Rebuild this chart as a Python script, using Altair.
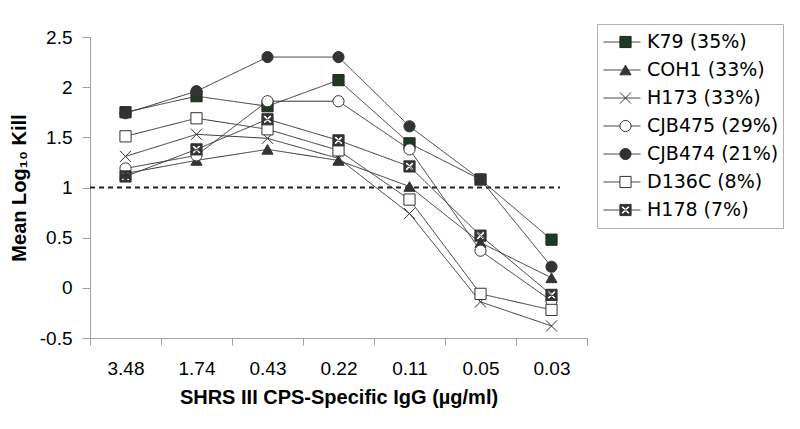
import altair as alt
import pandas as pd

conc = ["3.48", "1.74", "0.43", "0.22", "0.11", "0.05", "0.03"]
series = ["K79 (35%)", "COH1 (33%)", "H173 (33%)", "CJB475 (29%)",
          "CJB474 (21%)", "D136C (8%)", "H178 (7%)"]
k79 = [1.75, 1.91, 1.81, 2.07, 1.44, 1.08, 0.48]
coh1 = [1.14, 1.27, 1.38, 1.27, 1.01, 0.45, 0.10]
h173 = [1.31, 1.53, 1.49, 1.29, 0.74, -0.14, -0.38]
cjb475 = [1.19, 1.32, 1.86, 1.86, 1.38, 0.37, -0.13]
cjb474 = [1.74, 1.96, 2.30, 2.30, 1.61, 1.08, 0.21]
d136c = [1.51, 1.69, 1.58, 1.37, 0.88, -0.06, -0.22]
h178 = [1.11, 1.38, 1.68, 1.47, 1.21, 0.52, -0.07]
reference_level = 1

values = [k79, coh1, h173, cjb475, cjb474, d136c, h178]
series_b = [s + " " for s in series]  # marker legend domain (labels hidden)
rows = []
for s, sb, vals in zip(series, series_b, values):
    for c, v in zip(conc, vals):
        rows.append({"conc": c, "value": v, "series": s, "series_b": sb})
df = pd.DataFrame(rows)

DARK = "#333333"
X_PATH = "M-1,-1L1,1M-1,1L1,-1"
a, t = 0.78, 0.3
HOLE_X = (f"M{-t},0L{-a},{a - t}L{-a + t},{a}L0,{t}L{a - t},{a}L{a},{a - t}"
          f"L{t},0L{a},{-a + t}L{a - t},{-a}L0,{-t}L{-a + t},{-a}L{-a},{-a + t}Z")
H178_PATH = "M-1,-1H1V1H-1Z" + HOLE_X

shapes = ["square", "triangle-up", X_PATH, "circle", "circle", "square", H178_PATH]
fills = ["#1f3a22", DARK, DARK, "white", DARK, "white", DARK]
strokes = ["#222222", DARK, DARK, DARK, DARK, DARK, DARK]

W, H = 497, 301
LX, LY = 507, -13

x_enc = alt.X("conc:N", sort=conc, scale=alt.Scale(paddingInner=0, paddingOuter=0),
              axis=alt.Axis(title="SHRS III CPS-Specific IgG (µg/ml)", labelAngle=0,
                            tickBand="extent", labelPadding=14, tickSize=7,
                            titlePadding=9))
y_enc = alt.Y("value:Q", scale=alt.Scale(domain=[-0.5, 2.5], nice=False, zero=False),
              axis=alt.Axis(title="Mean Log₁₀ Kill", values=[-0.5, 0, 0.5, 1, 1.5, 2, 2.5],
                            labelExpr="datum.value", tickSize=8, labelPadding=10,
                            titlePadding=10))

rule = alt.Chart(pd.DataFrame({"y": [reference_level]})).mark_rule(
    color="#222222", strokeWidth=1.8, strokeDash=[5, 4]
).encode(y=alt.Y("y:Q", scale=alt.Scale(domain=[-0.5, 2.5], nice=False)),
         x=alt.value(0), x2=alt.value(470))

lines = alt.Chart(df).mark_line(color=DARK, strokeWidth=1).encode(
    x=x_enc, y=y_enc,
    strokeDash=alt.StrokeDash("series:N", sort=series,
                              scale=alt.Scale(domain=series, range=[[1, 0]] * 7),
                              legend=alt.Legend(title=None, orient="none", legendX=LX,
                                                legendY=LY, symbolType="stroke",
                                                symbolSize=1369, symbolStrokeColor=DARK,
                                                symbolStrokeWidth=1, padding=4,
                                                symbolOffset=2, labelOffset=6,
                                                clipHeight=28, rowPadding=0,
                                                labelFont="DejaVu Sans", labelFontSize=19,
                                                labelColor="black",
                                                strokeColor="#b0b0b0")),
)

points = alt.Chart(df).mark_point(size=125, strokeWidth=1, opacity=1).encode(
    x=alt.X("conc:N", sort=conc), y="value:Q",
    shape=alt.Shape("series_b:N", sort=series_b,
                    scale=alt.Scale(domain=series_b, range=shapes),
                    legend=alt.Legend(title=None, orient="none", legendX=LX, legendY=LY,
                                      symbolSize=125, symbolStrokeWidth=1, padding=4,
                                      symbolOffset=15, labelOffset=6, clipHeight=28,
                                      rowPadding=0, labelFont="DejaVu Sans",
                                      labelFontSize=19, labelExpr="''")),
    fill=alt.Fill("series_b:N", sort=series_b,
                  scale=alt.Scale(domain=series_b, range=fills)),
    stroke=alt.Stroke("series_b:N", sort=series_b,
                      scale=alt.Scale(domain=series_b, range=strokes)),
)

chart = alt.layer(rule, lines, points).properties(
    width=W, height=H,
    autosize=alt.AutoSizeParams(type="none"),
    padding={"left": 82, "top": 29, "right": 205, "bottom": 83},
    background="white",
).configure_view(stroke=None).configure_axis(
    domainColor="#a0a0a0", tickColor="#a0a0a0", grid=False,
    labelFont="Liberation Sans", labelFontSize=19, labelColor="black",
    titleFont="Liberation Sans", titleFontSize=20, titleFontWeight="bold",
    titleColor="black",
)

chart.save("out.html", embed_options={"renderer": "svg", "actions": False})
